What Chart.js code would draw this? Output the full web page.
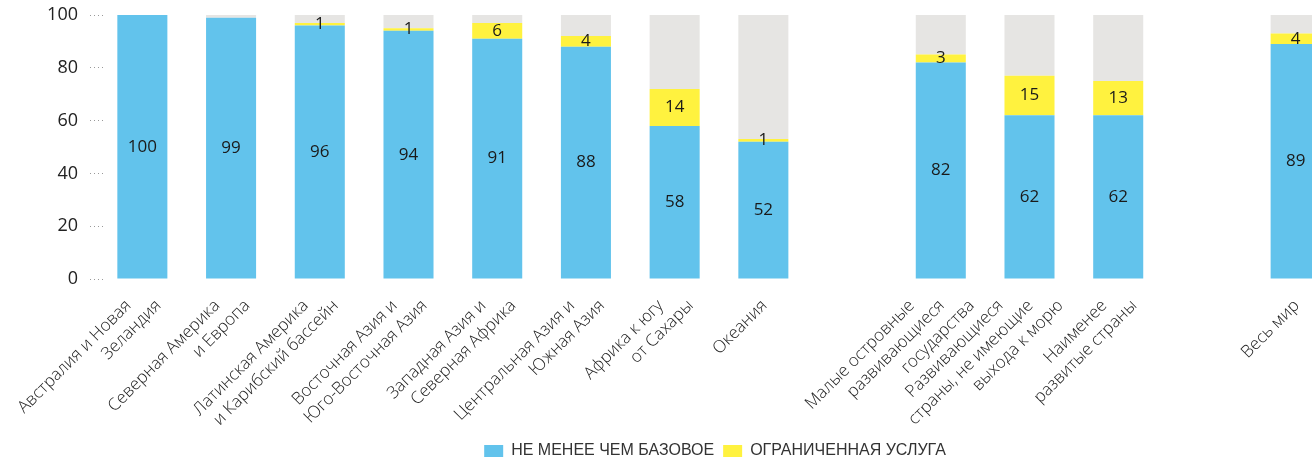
<!DOCTYPE html>
<html>
<head>
<meta charset="utf-8">
<script src="https://cdn.jsdelivr.net/npm/chart.js@4"></script>
<style>
  html, body { margin: 0; padding: 0; background: #fff; overflow: hidden; }
  #wrap { width: 1312px; height: 459px; overflow: hidden; }
  canvas { display: block; }
</style>
</head>
<body>
<div id="wrap"><canvas id="chart" width="1430" height="469"></canvas></div>
<script>
const categories = [
  ["Австралия и Новая", "Зеландия"],
  ["Северная Америка", "и Европа"],
  ["Латинская Америка", "и Карибский бассейн"],
  ["Восточная Азия и", "Юго-Восточная Азия"],
  ["Западная Азия и", "Северная Африка"],
  ["Центральная Азия и", "Южная Азия"],
  ["Африка к югу", "от Сахары"],
  ["Океания"],
  [],
  ["Малые островные", "развивающиеся", "государства"],
  ["Развивающиеся", "страны, не имеющие", "выхода к морю"],
  ["Наименее", "развитые страны"],
  [],
  ["Весь мир"],
];
const basicService = [100, 99, 96, 94, 91, 88, 58, 52, null, 82, 62, 62, null, 89];
const limitedService = [0, 0, 1, 1, 6, 4, 14, 1, null, 3, 15, 13, null, 4];
const noService = [0, 1, 3, 5, 3, 8, 28, 47, null, 15, 23, 25, null, 7];
const yTicks = [0, 20, 40, 60, 80, 100];
const seriesNames = ["НЕ МЕНЕЕ ЧЕМ БАЗОВОЕ", "ОГРАНИЧЕННАЯ УСЛУГА", "Нет"];

const textFont = "'Open Sans', Lato, sans-serif";

// value labels in the middle of the blue and yellow segments
const barLabels = {
  id: "barLabels",
  afterDatasetsDraw(chart) {
    const ctx = chart.ctx;
    ctx.save();
    ctx.font = "17px " + textFont;
    ctx.fillStyle = "#1a1a1a";
    ctx.textAlign = "center";
    ctx.textBaseline = "middle";
    [0, 1].forEach((di) => {
      chart.getDatasetMeta(di).data.forEach((bar, i) => {
        const v = chart.data.datasets[di].data[i];
        if (!v) return;
        ctx.fillText(String(v), bar.x, (bar.y + bar.base) / 2);
      });
    });
    ctx.restore();
  },
};

// slanted category names; every next line is shifted to the right
const slantedLabels = {
  id: "slantedLabels",
  afterDraw(chart) {
    const ctx = chart.ctx;
    const xs = chart.scales.x;
    ctx.save();
    ctx.font = "300 17px " + textFont;
    ctx.fillStyle = "#222";
    ctx.textAlign = "right";
    ctx.textBaseline = "middle";
    categories.forEach((lines, i) => {
      const cx = xs.getPixelForValue(i);
      const n = lines.length;
      lines.forEach((line, k) => {
        ctx.save();
        ctx.translate(cx + 1 + 30 * (k - (n - 1) / 2), xs.top + 24);
        ctx.rotate(-Math.PI / 4);
        ctx.fillText(line, 0, 0);
        ctx.restore();
      });
    });
    ctx.restore();
  },
};

new Chart(document.getElementById("chart"), {
  type: "bar",
  data: {
    labels: categories.map((c) => c.join(" ")),
    datasets: [
      { label: seriesNames[0], data: basicService, backgroundColor: "#62C3EC" },
      { label: seriesNames[1], data: limitedService, backgroundColor: "#FFF23F" },
      { label: seriesNames[2], data: noService, backgroundColor: "#E6E5E3" },
    ],
  },
  options: {
    responsive: false,
    animation: false,
    layout: { padding: { top: 15, left: 0, right: 0, bottom: 0 } },
    datasets: {
      bar: { categoryPercentage: 1, barPercentage: 0.564, borderWidth: 0 },
    },
    plugins: {
      tooltip: { enabled: false },
      legend: {
        position: "bottom",
        labels: {
          filter: (item) => item.datasetIndex < 2,
          boxWidth: 19,
          boxHeight: 12,
          padding: 9,
          color: "#333",
          font: { family: "'Liberation Sans', Arial, sans-serif", size: 16 },
        },
      },
    },
    scales: {
      x: {
        stacked: true,
        grid: { display: false },
        border: { display: false },
        ticks: { display: false },
        afterFit: (s) => { s.height = 155; },
      },
      y: {
        stacked: true,
        min: 0,
        max: 100,
        afterBuildTicks: (s) => { s.ticks = yTicks.map((v) => ({ value: v })); },
        grid: {
          color: "#999",
          tickColor: "#999",
          tickLength: 8,
          tickBorderDash: [1, 3],
        },
        border: { display: false, dash: [1, 3, 1, 3000] },
        ticks: { padding: 12, color: "#222", font: { family: textFont, size: 18 } },
        afterFit: (s) => {
          s.width = 98;
          s.paddingTop = 0;
          s.paddingBottom = 0;
        },
      },
      y2: {
        position: "right",
        grid: { display: false },
        border: { display: false },
        ticks: { display: false },
        afterFit: (s) => { s.width = 90; },
      },
    },
  },
  plugins: [barLabels, slantedLabels],
});
</script>
</body>
</html>
